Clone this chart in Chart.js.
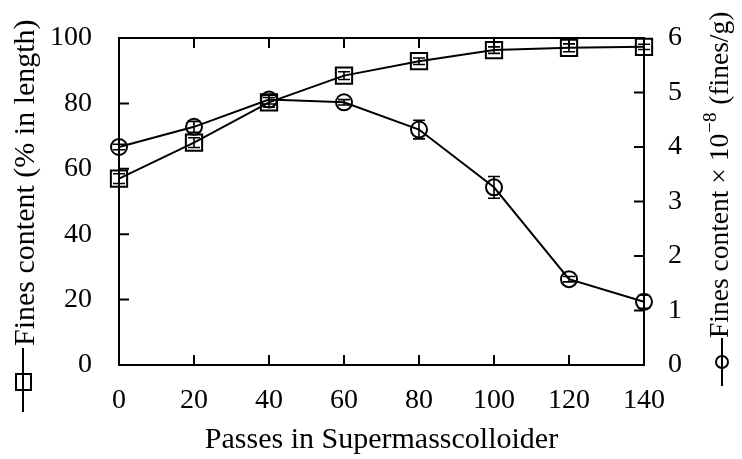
<!DOCTYPE html>
<html>
<head>
<meta charset="utf-8">
<script src="https://cdn.jsdelivr.net/npm/chart.js@4"></script>
<style>
  html, body { margin: 0; padding: 0; background: #fff; }
  #wrap { width: 742px; height: 459px; }
</style>
</head>
<body>
<div id="wrap"><canvas id="chart" width="742" height="459"></canvas></div>
<script>
// passes in the supermasscolloider
const passes = [0, 20, 40, 60, 80, 100, 120, 140];
// fines content, % in length (left axis, squares)
const finesLength = [57, 68, 80.3, 88.5, 92.9, 96.3, 97.0, 97.3];
const finesLengthErr = [1.5, 1.5, 1.5, 1.2, 1.0, 1.0, 1.2, 0.8];
// fines content x 1e-8 fines/g (right axis, circles)
const finesCount = [4.0, 4.37, 4.87, 4.82, 4.32, 3.26, 1.575, 1.16];
const finesCountErr = [0.05, 0.1, 0.08, 0.05, 0.17, 0.2, 0.05, 0.12];

const leftTitle = 'Fines content (% in length)';
const xTitle = 'Passes in Supermasscolloider';

const FONT = '"Liberation Serif", "Times New Roman", serif';
const FS = 28;   // tick labels
const TS = 30;   // axis titles

function pts(ys) {
  return passes.map((x, i) => ({ x: x, y: ys[i] }));
}

// error bars, frame with inward ticks, titles with key samples
const extras = {
  id: 'extras',
  afterDatasetsDraw(chart) {
    const ctx = chart.ctx;
    const errs = [finesLengthErr, finesCountErr];
    ctx.save();
    ctx.strokeStyle = '#000';
    ctx.lineWidth = 1.6;
    chart.data.datasets.forEach((ds, d) => {
      const meta = chart.getDatasetMeta(d);
      const ys = chart.scales[ds.yAxisID];
      meta.data.forEach((pt, i) => {
        const v = ds.data[i].y, e = errs[d][i];
        const y1 = ys.getPixelForValue(v - e), y2 = ys.getPixelForValue(v + e);
        ctx.beginPath();
        ctx.moveTo(pt.x, y1); ctx.lineTo(pt.x, y2);
        ctx.moveTo(pt.x - 6, y1); ctx.lineTo(pt.x + 6, y1);
        ctx.moveTo(pt.x - 6, y2); ctx.lineTo(pt.x + 6, y2);
        ctx.stroke();
      });
    });
    ctx.restore();
  },
  afterDraw(chart) {
    const ctx = chart.ctx;
    const a = chart.chartArea;
    const sx = chart.scales.x, sy = chart.scales.y, sy2 = chart.scales.y2;
    const T = 10;
    ctx.save();
    ctx.strokeStyle = '#000';
    ctx.lineWidth = 2;
    ctx.strokeRect(a.left, a.top, a.right - a.left, a.bottom - a.top);
    ctx.beginPath();
    sx.ticks.forEach(t => {
      const x = sx.getPixelForValue(t.value);
      ctx.moveTo(x, a.bottom); ctx.lineTo(x, a.bottom - T);
      ctx.moveTo(x, a.top); ctx.lineTo(x, a.top + T);
    });
    sy.ticks.forEach(t => {
      const y = sy.getPixelForValue(t.value);
      ctx.moveTo(a.left, y); ctx.lineTo(a.left + T, y);
    });
    sy2.ticks.forEach(t => {
      const y = sy2.getPixelForValue(t.value);
      ctx.moveTo(a.right, y); ctx.lineTo(a.right - T, y);
    });
    ctx.stroke();

    ctx.fillStyle = '#000';
    ctx.font = TS + 'px ' + FONT;
    // x title
    ctx.textAlign = 'center';
    ctx.textBaseline = 'middle';
    ctx.fillText(xTitle, (a.left + a.right) / 2, 440);

    // left title, reading upward, with square key sample below
    ctx.save();
    ctx.translate(26, 346);
    ctx.rotate(-Math.PI / 2);
    ctx.textAlign = 'left';
    ctx.textBaseline = 'middle';
    ctx.fillText(leftTitle, 0, 0);
    ctx.restore();
    ctx.lineWidth = 2;
    ctx.beginPath();
    ctx.moveTo(23, 348); ctx.lineTo(23, 412);
    ctx.stroke();
    ctx.fillStyle = '#fff';
    ctx.fillRect(16, 374, 15, 16);
    ctx.strokeRect(16, 374, 15, 16);
    ctx.beginPath();
    ctx.moveTo(23, 374); ctx.lineTo(23, 390);
    ctx.stroke();

    // right title with superscript
    const RS = 27.5;
    ctx.fillStyle = '#000';
    ctx.font = RS + 'px ' + FONT;
    ctx.save();
    ctx.translate(721, 338);
    ctx.rotate(-Math.PI / 2);
    ctx.textAlign = 'left';
    ctx.textBaseline = 'middle';
    let s1 = 'Fines content \u00d7 10';
    ctx.fillText(s1, 0, 0);
    let w = ctx.measureText(s1).width;
    ctx.font = Math.round(RS * 0.68) + 'px ' + FONT;
    ctx.fillText('\u22128', w + 1, -10);
    w += ctx.measureText('\u22128').width + 2;
    ctx.font = RS + 'px ' + FONT;
    ctx.fillText(' (fines/g)', w, 0);
    ctx.restore();
    ctx.beginPath();
    ctx.moveTo(722, 338); ctx.lineTo(722, 386);
    ctx.stroke();
    ctx.beginPath();
    ctx.arc(722, 362, 6, 0, Math.PI * 2);
    ctx.stroke();
    ctx.restore();
  }
};

function noPad(s) {
  s.paddingTop = 0; s.paddingBottom = 0; s.paddingLeft = 0; s.paddingRight = 0;
}

new Chart(document.getElementById('chart').getContext('2d'), {
  type: 'line',
  data: {
    datasets: [{
      label: leftTitle,
      data: pts(finesLength),
      yAxisID: 'y',
      borderColor: '#000',
      borderWidth: 2,
      backgroundColor: 'transparent',
      pointStyle: 'rect',
      pointRadius: 11.5,
      pointBorderWidth: 2,
      pointBorderColor: '#000',
      pointBackgroundColor: 'transparent',
      tension: 0,
      clip: false
    }, {
      label: 'Fines content x 10^-8 (fines/g)',
      data: pts(finesCount),
      yAxisID: 'y2',
      borderColor: '#000',
      borderWidth: 2,
      backgroundColor: 'transparent',
      pointStyle: 'circle',
      pointRadius: 8,
      pointBorderWidth: 2,
      pointBorderColor: '#000',
      pointBackgroundColor: 'transparent',
      tension: 0,
      clip: false
    }]
  },
  options: {
    responsive: false,
    animation: false,
    events: [],
    layout: { padding: { top: 38, left: 0, right: 0, bottom: 0 } },
    plugins: { legend: { display: false }, tooltip: { enabled: false } },
    scales: {
      x: {
        type: 'linear', min: 0, max: 140,
        ticks: { stepSize: 20, padding: 19, color: '#000', font: { family: FONT, size: FS } },
        grid: { display: false, drawTicks: false },
        border: { display: false },
        afterFit: s => { s.height = 94; noPad(s); }
      },
      y: {
        position: 'left', min: 0, max: 100,
        ticks: { stepSize: 20, padding: 27, color: '#000', font: { family: FONT, size: FS } },
        grid: { display: false, drawTicks: false },
        border: { display: false },
        afterFit: s => { s.width = 119; noPad(s); }
      },
      y2: {
        position: 'right', min: 0, max: 6,
        ticks: { stepSize: 1, padding: 24, color: '#000', font: { family: FONT, size: FS } },
        grid: { display: false, drawTicks: false },
        border: { display: false },
        afterFit: s => { s.width = 98; noPad(s); }
      }
    }
  },
  plugins: [extras]
});
</script>
</body>
</html>
